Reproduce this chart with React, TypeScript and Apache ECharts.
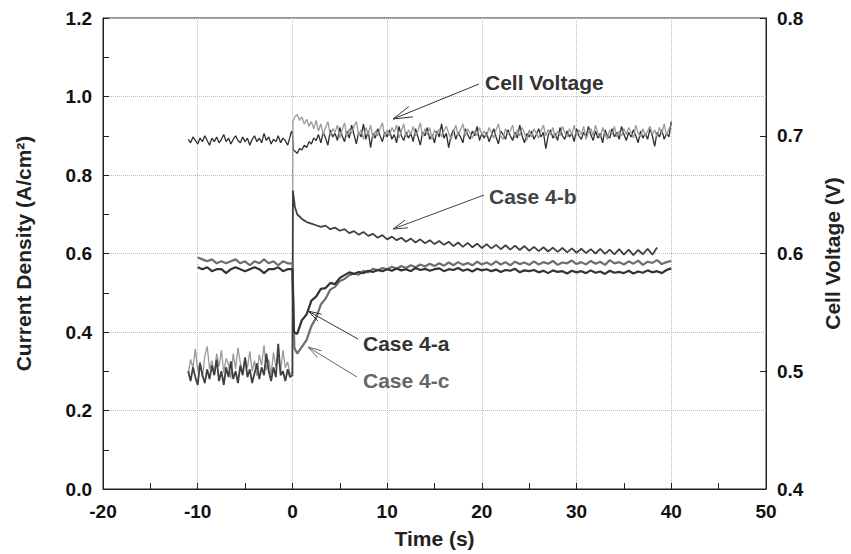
import React, { useEffect, useRef } from "react";
import * as echarts from "echarts";

// ---------- axis ticks ----------
const xMin = -20, xMax = 50, xStep = 10;
const yLeftMin = 0, yLeftMax = 1.2, yLeftStep = 0.2;
const yRightMin = 0.4, yRightMax = 0.8, yRightStep = 0.1;

// ---------- sampling grids (start time, step in s) ----------
const preStartLong = -11;   // voltage + Case 4-b records
const preStepFine = 0.25;
const preStartShort = -10;  // Case 4-a / 4-c records
const preStepCoarse = 0.5;
const postVoltStart = 0.25, postVoltStep = 0.25;
const postCurStart = 0.5, postCurStep = 0.5;

// ---------- Cell voltage (dark), V ----------
const voltAPre = [
  0.697, 0.694, 0.699, 0.696, 0.693, 0.698, 0.695, 0.700, 0.696, 0.692,
  0.698, 0.695, 0.699, 0.694, 0.697, 0.701, 0.695, 0.698, 0.693, 0.697,
  0.700, 0.696, 0.694, 0.699, 0.695, 0.698, 0.692, 0.697, 0.700, 0.695,
  0.698, 0.694, 0.702, 0.696, 0.699, 0.693, 0.697, 0.695, 0.700, 0.694,
  0.698, 0.696, 0.692, 0.699,
];
const voltAJump = [[-0.1, 0.704], [0, 0.702], [0.1, 0.688]];
const voltAPost = [
  0.687, 0.685, 0.689, 0.688, 0.692, 0.690, 0.695, 0.693, 0.698, 0.696,
  0.701, 0.694, 0.703, 0.698, 0.692, 0.705, 0.699, 0.702, 0.696, 0.707,
  0.700, 0.695, 0.704, 0.698, 0.709, 0.701, 0.693, 0.703, 0.699, 0.710,
  0.697, 0.704, 0.690, 0.702, 0.698, 0.706, 0.700, 0.695, 0.703, 0.699,
  0.705, 0.697, 0.701, 0.694, 0.708, 0.700, 0.696, 0.703, 0.698, 0.702,
  0.695, 0.706, 0.699, 0.692, 0.703, 0.700, 0.707, 0.697, 0.701, 0.694,
  0.704, 0.699, 0.710, 0.698, 0.702, 0.690, 0.700, 0.705, 0.697, 0.703,
  0.699, 0.694, 0.706, 0.701, 0.697, 0.704, 0.700, 0.708, 0.696, 0.702,
  0.698, 0.703, 0.695, 0.700, 0.706, 0.699, 0.693, 0.704, 0.701, 0.697,
  0.705, 0.700, 0.696, 0.703, 0.698, 0.709, 0.700, 0.694, 0.702, 0.699,
  0.704, 0.697, 0.701, 0.706, 0.699, 0.703, 0.689, 0.700, 0.705, 0.698,
  0.702, 0.696, 0.707, 0.700, 0.697, 0.704, 0.699, 0.702, 0.695, 0.706,
  0.700, 0.697, 0.703, 0.699, 0.708, 0.701, 0.696, 0.704, 0.698, 0.702,
  0.694, 0.705, 0.700, 0.698, 0.706, 0.699, 0.703, 0.697, 0.708, 0.701,
  0.696, 0.703, 0.699, 0.705, 0.700, 0.694, 0.704, 0.698, 0.702, 0.697,
  0.706, 0.700, 0.691, 0.703, 0.699, 0.705, 0.697, 0.702, 0.699, 0.712,
];

// ---------- Cell voltage (light, Case 4-c record), V ----------
const voltCPre = [
  0.498, 0.510, 0.503, 0.519, 0.500, 0.508, 0.495, 0.513, 0.521, 0.502,
  0.509, 0.497, 0.515, 0.504, 0.518, 0.499, 0.511, 0.506, 0.494, 0.515,
  0.502, 0.520, 0.507, 0.498, 0.512, 0.503, 0.517, 0.500, 0.509, 0.496,
  0.514, 0.505, 0.522, 0.501, 0.510, 0.497, 0.516, 0.504, 0.511, 0.499,
  0.518, 0.503, 0.508, 0.497,
];
const voltCJump = [[0, 0.500], [0.05, 0.712]];
const voltCPost = [
  0.716, 0.718, 0.713, 0.716, 0.710, 0.714, 0.708, 0.712, 0.706, 0.713,
  0.704, 0.710, 0.701, 0.707, 0.712, 0.700, 0.706, 0.703, 0.709, 0.698,
  0.705, 0.711, 0.699, 0.706, 0.702, 0.708, 0.712, 0.700, 0.705, 0.697,
  0.707, 0.701, 0.709, 0.698, 0.704, 0.700, 0.706, 0.711, 0.699, 0.705,
  0.700, 0.707, 0.703, 0.709, 0.698, 0.704, 0.710, 0.699, 0.705, 0.701,
  0.708, 0.700, 0.704, 0.711, 0.699, 0.706, 0.701, 0.707, 0.697, 0.705,
  0.701, 0.706, 0.699, 0.704, 0.708, 0.702, 0.697, 0.703, 0.709, 0.700,
  0.705, 0.710, 0.700, 0.706, 0.702, 0.698, 0.704, 0.700, 0.707, 0.701,
  0.704, 0.699, 0.707, 0.703, 0.698, 0.705, 0.710, 0.700, 0.697, 0.706,
  0.701, 0.704, 0.709, 0.698, 0.705, 0.700, 0.707, 0.702, 0.696, 0.705,
  0.699, 0.706, 0.702, 0.698, 0.704, 0.709, 0.700, 0.705, 0.701, 0.707,
  0.698, 0.704, 0.700, 0.708, 0.703, 0.699, 0.706, 0.701, 0.709, 0.700,
  0.705, 0.701, 0.708, 0.697, 0.703, 0.706, 0.700, 0.709, 0.702, 0.698,
  0.707, 0.702, 0.697, 0.705, 0.701, 0.708, 0.699, 0.704, 0.700, 0.706,
  0.701, 0.707, 0.703, 0.698, 0.709, 0.702, 0.699, 0.706, 0.700, 0.704,
  0.708, 0.701, 0.705, 0.699, 0.707, 0.702, 0.710, 0.700, 0.706, 0.709,
];

// ---------- Case 4-b current density, A/cm2 ----------
const case4bPre = [
  0.300, 0.275, 0.310, 0.285, 0.265, 0.320, 0.290, 0.270, 0.305, 0.280,
  0.315, 0.290, 0.330, 0.275, 0.300, 0.265, 0.310, 0.285, 0.325, 0.280,
  0.300, 0.270, 0.315, 0.290, 0.335, 0.285, 0.305, 0.270, 0.295, 0.320,
  0.280, 0.310, 0.290, 0.345, 0.300, 0.275, 0.310, 0.285, 0.370, 0.290,
  0.300, 0.275, 0.305, 0.285,
];
const case4bJump = [[0, 0.29], [0.05, 0.76], [0.25, 0.72]];
const case4bPost = [
  0.700, 0.688, 0.680, 0.676, 0.672, 0.668, 0.671, 0.662, 0.666, 0.658,
  0.662, 0.652, 0.657, 0.648, 0.655, 0.645, 0.650, 0.640, 0.647, 0.636,
  0.643, 0.634, 0.640, 0.630, 0.638, 0.628, 0.636, 0.626, 0.634, 0.624,
  0.632, 0.622, 0.630, 0.619, 0.628, 0.617, 0.627, 0.616, 0.625, 0.614,
  0.624, 0.613, 0.622, 0.611, 0.621, 0.610, 0.620, 0.609, 0.619, 0.607,
  0.617, 0.606, 0.616, 0.605, 0.615, 0.604, 0.614, 0.603, 0.613, 0.602,
  0.612, 0.601, 0.611, 0.600, 0.612, 0.599, 0.610, 0.598, 0.611, 0.597,
  0.610, 0.596, 0.609, 0.598, 0.612, 0.597, 0.615,
];

// ---------- Case 4-a current density, A/cm2 ----------
const case4aPre = [0.565, 0.560, 0.565, 0.555, 0.560, 0.560, 0.550, 0.560, 0.565, 0.560, 0.555, 0.560, 0.565, 0.560, 0.550, 0.560, 0.560, 0.565, 0.555, 0.560];
const case4aJump = [[0, 0.56], [0.15, 0.40]];
const case4aPost = [
  0.395, 0.430, 0.445, 0.480, 0.490, 0.510, 0.512, 0.525, 0.522, 0.538,
  0.545, 0.552, 0.548, 0.553, 0.550, 0.556, 0.553, 0.558, 0.555, 0.560,
  0.556, 0.562, 0.557, 0.560, 0.555, 0.563, 0.558, 0.561, 0.556, 0.560,
  0.562, 0.555, 0.560, 0.558, 0.563, 0.556, 0.560, 0.554, 0.561, 0.557,
  0.560, 0.555, 0.559, 0.553, 0.558, 0.556, 0.561, 0.552, 0.557, 0.555,
  0.558, 0.552, 0.556, 0.550, 0.557, 0.553, 0.555, 0.549, 0.556, 0.552,
  0.555, 0.550, 0.557, 0.551, 0.554, 0.548, 0.556, 0.551, 0.553, 0.550,
  0.556, 0.549, 0.554, 0.551, 0.557, 0.552, 0.555, 0.550, 0.558, 0.562,
];

// ---------- Case 4-c current density, A/cm2 ----------
const case4cPre = [0.590, 0.585, 0.580, 0.585, 0.575, 0.580, 0.575, 0.580, 0.585, 0.575, 0.580, 0.570, 0.580, 0.575, 0.585, 0.575, 0.580, 0.570, 0.580, 0.575];
const case4cJump = [[0, 0.575], [0.2, 0.36]];
const case4cPost = [
  0.345, 0.362, 0.380, 0.415, 0.436, 0.470, 0.485, 0.508, 0.515, 0.530,
  0.535, 0.545, 0.549, 0.546, 0.556, 0.552, 0.561, 0.557, 0.563, 0.560,
  0.566, 0.561, 0.568, 0.563, 0.570, 0.565, 0.572, 0.567, 0.574, 0.568,
  0.575, 0.569, 0.577, 0.570, 0.578, 0.571, 0.576, 0.570, 0.579, 0.572,
  0.577, 0.571, 0.580, 0.572, 0.578, 0.570, 0.579, 0.573, 0.577, 0.571,
  0.580, 0.572, 0.578, 0.574, 0.581, 0.571, 0.577, 0.575, 0.582, 0.573,
  0.578, 0.572, 0.581, 0.574, 0.579, 0.571, 0.583, 0.575, 0.578, 0.572,
  0.580, 0.574, 0.582, 0.571, 0.579, 0.576, 0.583, 0.573, 0.578, 0.581,
];

// ---------- annotation labels ----------
const labels = {
  volt: "Cell Voltage",
  b: "Case 4-b",
  a: "Case 4-a",
  c: "Case 4-c",
};

const FONT = "'Liberation Sans', Arial, Helvetica, sans-serif";

function seg(start: number, step: number, values: number[]) {
  return values.map((v, i) => [+(start + i * step).toFixed(3), v]);
}

function build(pre: number[], preStart: number, preStep: number, jump: number[][], post: number[], postStart: number, postStep: number) {
  return [...seg(preStart, preStep, pre), ...jump, ...seg(postStart, postStep, post)];
}

function arrow(tail: [number, number], tip: [number, number], head: number, color: string) {
  const dx = tail[0] - tip[0];
  const dy = tail[1] - tip[1];
  const ang = Math.atan2(dy, dx);
  const spread = (16 * Math.PI) / 180;
  const w1: [number, number] = [tip[0] + head * Math.cos(ang + spread), tip[1] + head * Math.sin(ang + spread)];
  const w2: [number, number] = [tip[0] + head * Math.cos(ang - spread), tip[1] + head * Math.sin(ang - spread)];
  return [
    { type: "line", shape: { x1: tail[0], y1: tail[1], x2: tip[0], y2: tip[1] }, style: { stroke: color, lineWidth: 1 }, z: 100 },
    { type: "polyline", shape: { points: [w1, tip, w2] }, style: { stroke: color, lineWidth: 1, fill: null }, z: 100 },
  ];
}

function textEl(x: number, y: number, text: string, color: string) {
  return {
    type: "text",
    x,
    y,
    z: 100,
    style: { text, fill: color, font: `bold 21px ${FONT}`, verticalAlign: "middle", align: "left" },
  };
}

export default function App() {
  const ref = useRef<HTMLDivElement>(null);

  useEffect(() => {
    if (!ref.current) return;
    const chart = echarts.init(ref.current, undefined, { renderer: "svg" });
    const axisColor = "#222";
    const tickLabel = { fontSize: 19, fontWeight: "bold" as const, color: "#111", fontFamily: FONT };
    const nameStyle = { fontSize: 21, fontWeight: "bold" as const, color: "#222", fontFamily: FONT };

    const lineSeries = (name: string, data: any[], color: string, width: number, yAxisIndex: number, z: number) => ({
      name,
      type: "line",
      data,
      yAxisIndex,
      showSymbol: false,
      symbol: "none",
      z,
      lineStyle: { color, width },
      itemStyle: { color },
    });

    chart.setOption({
      animation: false,
      backgroundColor: "#fff",
      grid: { left: 103, right: 83, top: 18, bottom: 64, show: true, borderColor: axisColor, borderWidth: 1, backgroundColor: "transparent" },
      xAxis: {
        type: "value",
        min: xMin,
        max: xMax,
        interval: xStep,
        name: "Time (s)",
        nameLocation: "middle",
        nameGap: 39,
        nameTextStyle: nameStyle,
        axisLine: { show: true, onZero: false, lineStyle: { color: axisColor, width: 1 } },
        axisTick: { inside: true, length: 6, lineStyle: { color: axisColor } },
        minorTick: { show: true, splitNumber: 2, length: 6, lineStyle: { color: axisColor } },
        axisLabel: { ...tickLabel, margin: 13 },
        splitLine: { show: true, lineStyle: { type: "dotted", color: "#bdbdbd", width: 1 } },
      },
      yAxis: [
        {
          type: "value",
          min: yLeftMin,
          max: yLeftMax,
          interval: yLeftStep,
          name: "Current Density (A/cm²)",
          nameLocation: "middle",
          nameRotate: 90,
          nameGap: 69,
          nameTextStyle: nameStyle,
          axisLine: { show: true, onZero: false, lineStyle: { color: axisColor, width: 1 } },
          axisTick: { inside: true, length: 6, lineStyle: { color: axisColor } },
          minorTick: { show: true, splitNumber: 2, length: 6, lineStyle: { color: axisColor } },
          axisLabel: { ...tickLabel, margin: 11, formatter: (v: number) => v.toFixed(1) },
          splitLine: { show: true, lineStyle: { type: "dotted", color: "#bdbdbd", width: 1 } },
        },
        {
          type: "value",
          position: "right",
          min: yRightMin,
          max: yRightMax,
          interval: yRightStep,
          name: "Cell Voltage (V)",
          nameLocation: "middle",
          nameRotate: 90,
          nameGap: 56,
          nameTextStyle: nameStyle,
          axisLine: { show: true, onZero: false, lineStyle: { color: axisColor, width: 1 } },
          axisTick: { inside: true, length: 6, lineStyle: { color: axisColor } },
          axisLabel: { ...tickLabel, margin: 11, formatter: (v: number) => v.toFixed(1) },
          splitLine: { show: false },
        },
      ],
      series: [
        lineSeries("Cell Voltage A", build(voltAPre, preStartLong, preStepFine, voltAJump, voltAPost, postVoltStart, postVoltStep), "#2e2e2e", 1.3, 1, 2),
        lineSeries("Cell Voltage C", build(voltCPre, preStartLong, preStepFine, voltCJump, voltCPost, postVoltStart, postVoltStep), "#9a9a9a", 1.3, 1, 3),
        lineSeries(labels.b, build(case4bPre, preStartLong, preStepFine, case4bJump, case4bPost, postCurStart, postCurStep), "#404040", 1.8, 0, 4),
        lineSeries(labels.c, build(case4cPre, preStartShort, preStepCoarse, case4cJump, case4cPost, postCurStart, postCurStep), "#6e6e6e", 2.2, 0, 5),
        lineSeries(labels.a, build(case4aPre, preStartShort, preStepCoarse, case4aJump, case4aPost, postCurStart, postCurStep), "#333333", 2.2, 0, 6),
      ],
      graphic: [
        textEl(485, 82, labels.volt, "#333"),
        ...arrow([479, 84], [393, 119], 20, "#333"),
        textEl(489, 196, labels.b, "#444"),
        ...arrow([484, 195], [393, 229], 15, "#444"),
        textEl(363, 343, labels.a, "#333"),
        ...arrow([358, 339], [308, 311], 14, "#333"),
        textEl(363, 380, labels.c, "#666"),
        ...arrow([357, 377], [308, 347], 14, "#666"),
      ],
    });
    return () => chart.dispose();
  }, []);

  return <div ref={ref} style={{ position: "absolute", left: 0, top: 0, width: 851, height: 554 }} />;
}
